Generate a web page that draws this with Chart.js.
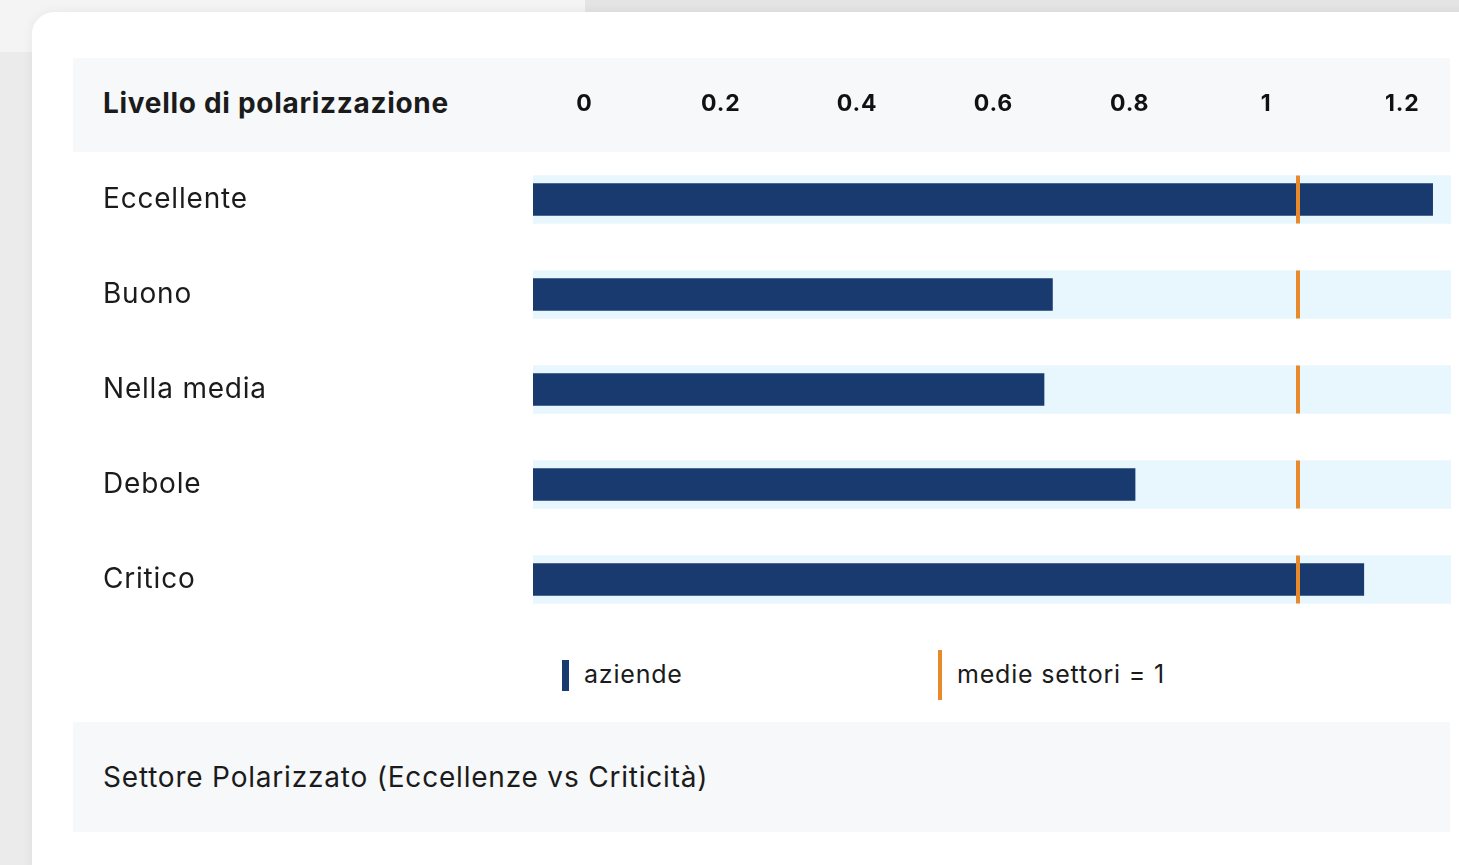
<!DOCTYPE html>
<html lang="it">
<head>
<meta charset="utf-8">
<title>Livello di polarizzazione</title>
<script src="https://cdn.jsdelivr.net/npm/chart.js@4.4.1/dist/chart.umd.min.js"></script>
<style>
  html, body { margin: 0; padding: 0; }
  body {
    width: 1459px; height: 865px; overflow: hidden; position: relative;
    background: #ebebeb; font-family: "Inter", "Noto Sans", sans-serif; color: #1b1b1b;
  }
  .topstrip { position: absolute; left: 0; top: 0; width: 585px; height: 52px; background: #f4f4f4; }
  .topright { position: absolute; left: 585px; top: 0; width: 874px; height: 12px; background: #e4e4e4; }
  .card {
    position: absolute; left: 32px; top: 12px; width: 1460px; height: 880px;
    background: #fff; border-radius: 22px; box-shadow: 0 0 12px rgba(0,0,0,0.06);
  }
  .band { position: absolute; left: 73px; width: 1377px; background: #f6f8fa; }
  .head { top: 58px; height: 94px; }
  .foot { top: 722px; height: 110px; }
  .title { position: absolute; left: 103px; top: 103px; transform: translateY(-50%); font-size: 28px; font-weight: 700; letter-spacing: 0.7px; }
  .note { position: absolute; left: 103px; top: 777px; transform: translateY(-50%); font-size: 28px; letter-spacing: 0.8px; }
  #wrap { position: absolute; left: 73px; top: 58px; width: 1386px; height: 569px; }
  .mk { position: absolute; }
  .lg { position: absolute; top: 674px; transform: translateY(-50%); font-size: 25px; letter-spacing: 0.8px; }
</style>
</head>
<body>
<div class="topstrip"></div>
<div class="topright"></div>
<div class="card"></div>
<div class="band head"></div>
<div class="band foot"></div>
<div class="title">Livello di polarizzazione</div>
<div id="wrap"><canvas id="chart" width="1386" height="569"></canvas></div>

<div class="mk" style="left:562px;top:660px;width:7px;height:31px;background:#193a6f"></div>
<div class="lg" style="left:584px">aziende</div>
<div class="mk" style="left:938px;top:650px;width:4px;height:50px;background:#e8892b"></div>
<div class="lg" style="left:957px">medie settori = 1</div>

<div class="note">Settore Polarizzato (Eccellenze vs Criticità)</div>

<script>
// --------------------------------------------------
const categories = ["Eccellente", "Buono", "Nella media", "Debole", "Critico"];
const aziende = [1.176, 0.679, 0.668, 0.787, 1.086];
const medieSettori = [1, 1, 1, 1, 1];
const scaleMax = 1.2;
const tickValues = [0, 0.2, 0.4, 0.6, 0.8, 1, 1.2];
const tickLabels = ["0", "0.2", "0.4", "0.6", "0.8", "1", "1.2"];

const NAVY = "#193a6f";
const ORANGE = "#e8892b";
const TRACK = "#e8f6fe";

// no extra room for first/last tick labels
function noPad(s) {
  s.paddingLeft = 0;
  s.paddingRight = 0;
  s.paddingTop = 0;
  s.paddingBottom = 0;
}

// label spacing a bit wider (canvas letterSpacing)
const spacing = {
  id: "spacing",
  beforeDraw(chart) {
    chart.ctx.letterSpacing = "0.8px";
  },
};

// --------------------------------------------------
const ctx = document.getElementById("chart").getContext("2d");
const chart = new Chart(ctx, {
  type: "bar",
  data: {
    labels: categories,
    datasets: [
      {
        type: "line",
        label: "medie settori = 1",
        data: medieSettori,
        showLine: false,
        pointStyle: "line",
        pointRotation: 90,
        pointRadius: 24,
        pointHoverRadius: 24,
        pointBorderWidth: 4,
        pointBorderColor: ORANGE,
        borderColor: ORANGE,
        order: 1,
      },
      {
        label: "aziende",
        data: aziende,
        backgroundColor: NAVY,
        barThickness: 32,
        grouped: false,
        order: 2,
      },
      {
        label: "sfondo",
        data: categories.map(() => scaleMax),
        backgroundColor: TRACK,
        barThickness: 48,
        grouped: false,
        order: 3,
      },
    ],
  },
  plugins: [spacing],
  options: {
    indexAxis: "y",
    responsive: false,
    animation: false,
    layout: { autoPadding: false, padding: { left: 30, right: 8, top: 0, bottom: 0 } },
    plugins: {
      legend: { display: false },
      tooltip: { enabled: false },
    },
    scales: {
      x: {
        display: false,
        min: 0,
        max: scaleMax,
      },
      // header scale, labels sit in the grey band
      x2: {
        position: "top",
        min: -0.0754,
        max: 1.2714,
        grid: { display: false, drawTicks: false },
        border: { display: false },
        afterBuildTicks: (s) => { s.ticks = tickValues.map((v) => ({ value: v })); },
        afterFit: (s) => { s.height = 94; noPad(s); },
        ticks: {
          padding: 34,
          autoSkip: false,
          maxRotation: 0,
          color: "#111",
          font: { family: "Inter", size: 23, weight: "bold" },
          callback: (v, i) => tickLabels[i],
        },
      },
      y: {
        grid: { display: false },
        border: { display: false },
        afterFit: (s) => { s.width = 430; noPad(s); },
        ticks: {
          crossAlign: "far",
          color: "#1b1b1b",
          font: { family: "Inter", size: 28 },
        },
      },
    },
  },
});
</script>
</body>
</html>
